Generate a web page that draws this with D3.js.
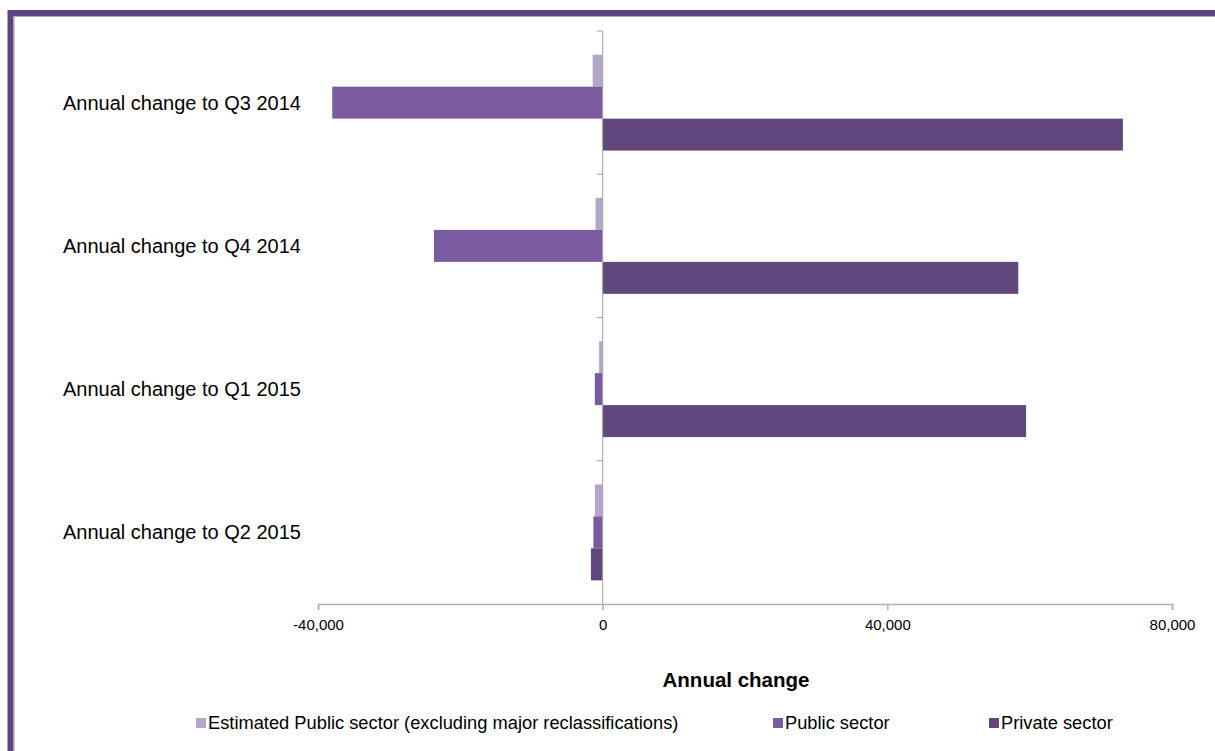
<!DOCTYPE html>
<html>
<head>
<meta charset="utf-8">
<script src="https://cdn.jsdelivr.net/npm/d3@7"></script>
<style>
  body { margin: 0; background: #fff; }
  svg text { font-family: "Liberation Sans", Arial, sans-serif; }
</style>
</head>
<body>
<div id="chart"></div>
<script>
"use strict"

// data
var categories = ["Annual change to Q3 2014", "Annual change to Q4 2014", "Annual change to Q1 2015", "Annual change to Q2 2015"];
var seriesNames = ["Estimated Public sector (excluding major reclassifications)", "Public sector", "Private sector"];
var estPublic = [-1400, -1000, -500, -1100];
var publicSector = [-38000, -23700, -1100, -1300];
var privateSector = [73100, 58400, 59500, -1650];
var xTicks = [-40000, 0, 40000, 80000];

var colors = ["#b3a6c8", "#7b5b9f", "#62477f"];
var width = 1215, height = 751;
var margin = {top: 31, left: 318, right: 43, bottom: 147};

let svg = d3.select("#chart")
  .append("svg")
    .attr("width", width)
    .attr("height", height);

// frame
svg.append("rect").attr("x", 0).attr("y", 0).attr("width", width).attr("height", height).attr("fill", "#fff");
svg.append("path")
  .attr("d", "M10.5," + height + " V13 H" + width)
  .attr("fill", "none").attr("stroke", "#5e4481").attr("stroke-width", 6);
svg.append("path")
  .attr("d", "M14," + height + " V16.5 H" + width)
  .attr("fill", "none").attr("stroke", "#a9a9a9").attr("stroke-width", 1.2);

const x = d3.scaleLinear()
  .domain([-40000, 80000])
  .range([margin.left, width - margin.right]);

const y = d3.scaleBand()
  .domain(categories)
  .range([margin.top, height - margin.bottom]);

const ySub = d3.scaleBand()
  .domain(d3.range(3))
  .range([0, y.bandwidth()])
  .paddingOuter(0.74);

const rows = [];
categories.forEach((c, i) => {
  [estPublic[i], publicSector[i], privateSector[i]].forEach((v, s) => {
    rows.push({cat: c, s: s, v: v});
  });
});

svg.append("g")
  .selectAll("rect")
  .data(rows)
  .join("rect")
    .attr("x", d => x(Math.min(0, d.v)))
    .attr("y", d => y(d.cat) + ySub(d.s))
    .attr("width", d => Math.abs(x(d.v) - x(0)))
    .attr("height", ySub.bandwidth())
    .attr("fill", d => colors[d.s]);

// x axis
const xAxis = svg.append("g")
  .attr("transform", "translate(0," + (height - margin.bottom) + ")")
  .call(d3.axisBottom(x).tickValues(xTicks).tickSize(6).tickPadding(9)
    .tickFormat(d => d3.format(",")(d).replace("\u2212", "-")));
xAxis.select(".domain").attr("stroke", "#b0b0b0").attr("stroke-width", 1.5);
xAxis.selectAll(".tick line").attr("stroke", "#b0b0b0").attr("stroke-width", 1.5);
xAxis.selectAll(".tick text").attr("font-size", 15).attr("fill", "#000")
  .style("font-family", "\"Liberation Sans\", Arial, sans-serif");

// vertical zero axis with category ticks
const yAxis = svg.append("g")
  .attr("transform", "translate(" + x(0) + ",0)");
yAxis.append("line")
  .attr("y1", margin.top).attr("y2", height - margin.bottom)
  .attr("stroke", "#a0a0a0").attr("stroke-width", 1);
yAxis.selectAll(".ctick")
  .data(categories)
  .join("line")
    .attr("class", "ctick")
    .attr("x1", -6).attr("x2", 0)
    .attr("y1", d => y(d)).attr("y2", d => y(d))
    .attr("stroke", "#a0a0a0").attr("stroke-width", 1);

// category labels
svg.append("g")
  .selectAll("text")
  .data(categories)
  .join("text")
    .attr("x", 63)
    .attr("y", d => y(d) + ySub(1) + ySub.bandwidth() / 2)
    .attr("dy", "0.35em")
    .attr("font-size", 20)
    .attr("fill", "#000")
    .text(d => d);

// axis title
svg.append("text")
  .attr("x", 736).attr("y", 687)
  .attr("text-anchor", "middle")
  .attr("font-size", 20.5)
  .attr("font-weight", "bold")
  .text("Annual change");

// legend
const legendX = [196, 773, 989];
const legend = svg.append("g")
  .selectAll("g")
  .data(seriesNames)
  .join("g")
    .attr("transform", (d, i) => "translate(" + legendX[i] + ",723)");
legend.append("rect")
  .attr("x", 0).attr("y", -5).attr("width", 10).attr("height", 10)
  .attr("fill", (d, i) => colors[i]);
legend.append("text")
  .attr("x", 12).attr("dy", "0.35em")
  .attr("font-size", 18.3)
  .text(d => d);
</script>
</body>
</html>
